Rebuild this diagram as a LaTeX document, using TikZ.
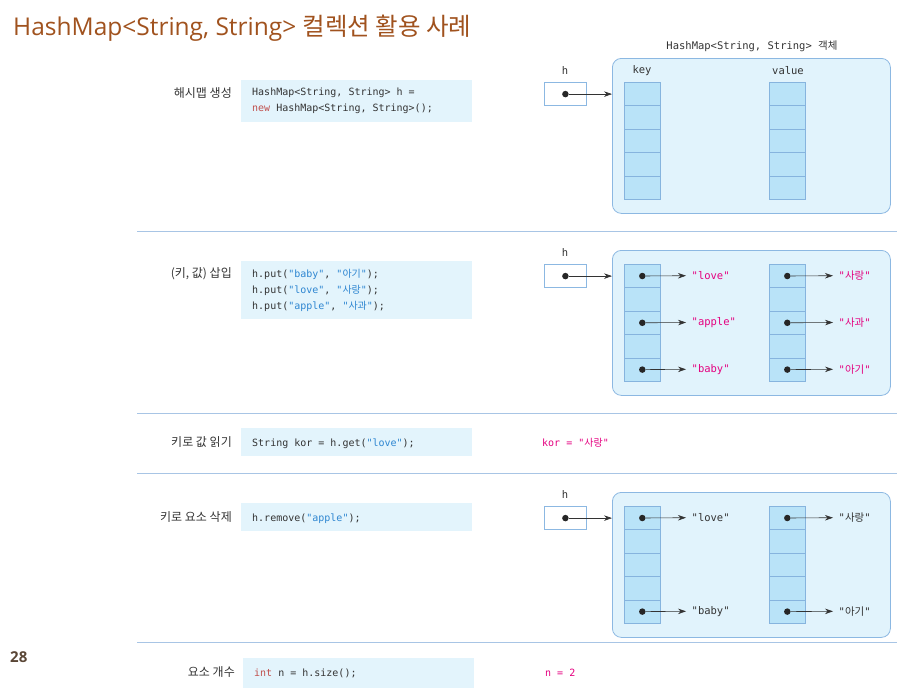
\documentclass[tikz,border=0pt]{standalone}
\usepackage{fontspec}
\setmainfont{Open Sans}
\newfontfamily\krfont{Noto Sans CJK KR}
\newfontfamily\mono{DejaVu Sans Mono}
\usetikzlibrary{arrows.meta}
\definecolor{titlec}{HTML}{A0521E}
\definecolor{numc}{HTML}{5A4636}
\definecolor{codebg}{HTML}{E3F4FC}
\definecolor{contf}{HTML}{E1F3FC}
\definecolor{contb}{HTML}{8CB8E2}
\definecolor{cellf}{HTML}{B9E3F8}
\definecolor{cellb}{HTML}{86B4DE}
\definecolor{sepc}{HTML}{A8C5E5}
\definecolor{pinkc}{HTML}{E4007F}
\definecolor{strc}{HTML}{2E86D1}
\definecolor{kwc}{HTML}{C0504D}
\definecolor{txtc}{HTML}{333333}
\newcommand\krt[1]{{\krfont #1}}
\newcommand\jstr[1]{{\color{strc}#1}}
\newcommand\hmap[3]{%
  \node[hlabel] (#1hl) at (565,#2-11) {h};
  \node[hbox, anchor=north west] (#1h) at (544,#2) {};
  \node[container, anchor=north west, minimum height={131+#3}] (#1box) at (612,#2-#3) {};
  \foreach \i in {1,...,5} {
    \node[cell, anchor=north west] (#1k\i) at (624,{#2+(\i-1)*23.4}) {};
    \node[cell, anchor=north west] (#1v\i) at (769,{#2+(\i-1)*23.4}) {};
  }
  \node[dot] (#1hd) at (#1h.center) {};
  \draw[arr] (#1hd) -- (#1box.west |- #1hd);
}
\begin{document}
\begin{tikzpicture}[x=1pt,y=-1pt,
  title/.style={anchor=base west, inner sep=0, text=titlec, font=\fontsize{24.5}{28}\selectfont},
  lbl/.style={anchor=base east, inner sep=0, text=txtc, font=\krfont\fontsize{12}{14}\selectfont},
  codebox/.style={anchor=north west, fill=codebg, minimum width=231pt, inner sep=0},
  code/.style={anchor=base west, inner sep=0, text=txtc, font=\mono\fontsize{10}{12}\selectfont},
  res/.style={anchor=base west, inner sep=0, text=pinkc, font=\mono\fontsize{10}{12}\selectfont},
  hlabel/.style={inner sep=0, text=txtc, font=\mono\fontsize{10.5}{12}\selectfont},
  hbox/.style={minimum width=42pt, minimum height=23.4pt, draw=contb, fill=white, line width=0.8pt, inner sep=0},
  container/.style={minimum width=278pt, rounded corners=9pt, draw=contb, fill=contf, line width=0.8pt, inner sep=0},
  cell/.style={minimum width=36pt, minimum height=23.4pt, draw=cellb, fill=cellf, line width=0.6pt, inner sep=0},
  dot/.style={circle, fill=black!85, minimum size=6.5pt, inner sep=0},
  arr/.style={-{Stealth[length=8pt,width=5.5pt]}, line width=0.6pt, draw=black!80},
  val/.style={anchor=west, inner ysep=1pt, inner xsep=5.5pt, font=\mono\fontsize{10.5}{12}\selectfont},
  sep/.style={draw=sepc, line width=0.8pt}
]
\useasboundingbox (0,0) rectangle (915,688);

% title
\node[title] (title) at (13,35) {HashMap<String, String> \krt{컬렉션 활용 사례}};
\node[anchor=base west, inner sep=0, text=numc, font=\bfseries\fontsize{15}{18}\selectfont] (page) at (10,662) {28};

% separators
\draw[sep] (137,231) -- (897,231);
\draw[sep] (137,413) -- (897,413);
\draw[sep] (137,473) -- (897,473);
\draw[sep] (137,642) -- (897,642);

% ---------- section 1
\node[lbl] (l1) at (232,97) {해시맵 생성};
\node[codebox, minimum height=42pt] (c1) at (241,80) {};
\node[code] (c1a) at (252,95) {HashMap<String, String> h =};
\node[code] (c1b) at (252,111) {{\color{kwc}new} HashMap<String, String>();};
\node[hlabel] (objt) at (752,46) {HashMap<String, String> \krt{객체}};
\hmap{a}{82}{24}
\node[hlabel] (keyl) at (642,71) {key};
\node[hlabel] (vall) at (788,71) {value};

% ---------- section 2
\node[lbl] (l2) at (232,277) {(키, 값) 삽입};
\node[codebox, minimum height=58pt] (c2) at (241,261) {};
\node[code] (c2a) at (252,277) {h.put(\jstr{"baby"}, \jstr{"\krt{아기}"});};
\node[code] (c2b) at (252,293) {h.put(\jstr{"love"}, \jstr{"\krt{사랑}"});};
\node[code] (c2c) at (252,309) {h.put(\jstr{"apple"}, \jstr{"\krt{사과}"});};
\hmap{b}{264}{14}
\foreach \r/\kt/\vt in {1/love/사랑, 3/apple/사과, 5/baby/아기} {
  \node[dot] (bkd\r) at (bk\r.center) {};
  \node[dot] (bvd\r) at (bv\r.center) {};
  \node[val, text=pinkc] (bkt\r) at (686,{264+(\r-0.5)*23.4}) {"\kt"};
  \node[val, text=pinkc] (bvt\r) at (833,{264+(\r-0.5)*23.4}) {"\krt{\vt}"};
  \draw[arr] (bkd\r) -- (bkt\r.west);
  \draw[arr] (bvd\r) -- (bvt\r.west);
}

% ---------- section 3
\node[lbl] (l3) at (232,446) {키로 값 읽기};
\node[codebox, minimum height=28pt] (c3) at (241,428) {};
\node[code] (c3a) at (252,446) {String kor = h.get(\jstr{"love"});};
\node[res] (r3) at (542,446) {kor = "\krt{사랑}"};

% ---------- section 4
\node[lbl] (l4) at (232,521) {키로 요소 삭제};
\node[codebox, minimum height=28pt] (c4) at (241,503) {};
\node[code] (c4a) at (252,521) {h.remove(\jstr{"apple"});};
\hmap{d}{506}{14}
\foreach \r/\kt/\vt in {1/love/사랑, 5/baby/아기} {
  \node[dot] (dkd\r) at (dk\r.center) {};
  \node[dot] (dvd\r) at (dv\r.center) {};
  \node[val, text=txtc] (dkt\r) at (686,{506+(\r-0.5)*23.4}) {"\kt"};
  \node[val, text=txtc] (dvt\r) at (833,{506+(\r-0.5)*23.4}) {"\krt{\vt}"};
  \draw[arr] (dkd\r) -- (dkt\r.west);
  \draw[arr] (dvd\r) -- (dvt\r.west);
}

% ---------- section 5
\node[lbl] (l5) at (235,676) {요소 개수};
\node[codebox, minimum height=30pt] (c5) at (243,658) {};
\node[code] (c5a) at (254,676) {{\color{kwc}int} n = h.size();};
\node[res] (r5) at (545,676) {n = 2};
\end{tikzpicture}
\end{document}
